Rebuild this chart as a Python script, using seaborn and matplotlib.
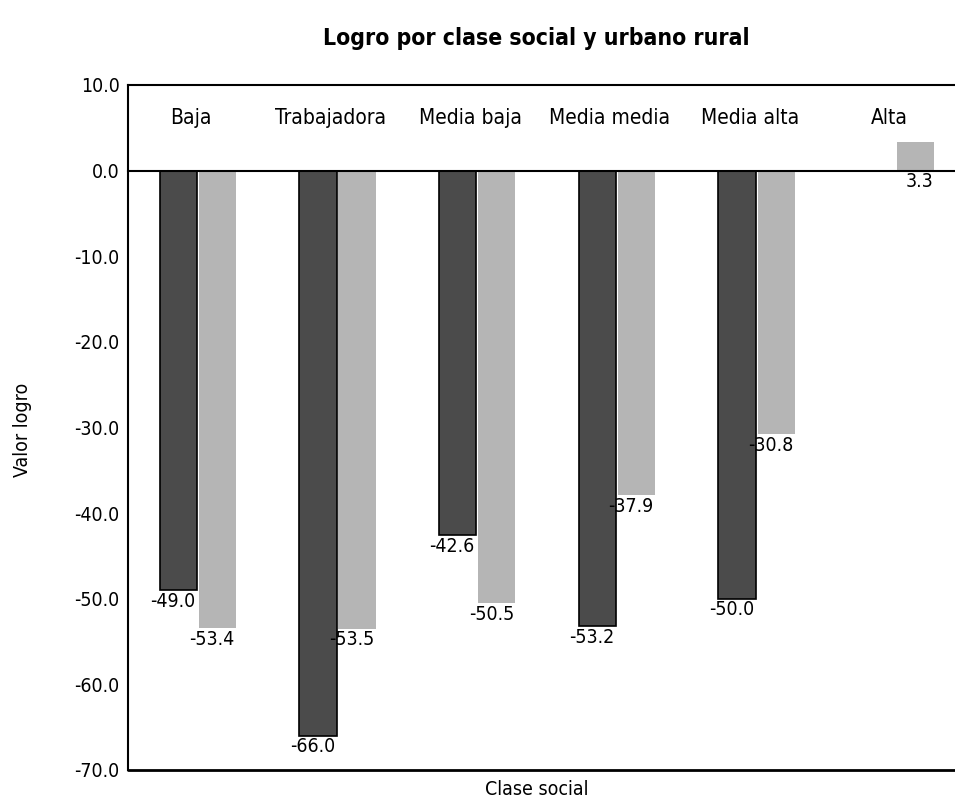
import numpy as np
import pandas as pd
import seaborn as sns
import matplotlib.pyplot as plt

categories = ["Baja", "Trabajadora", "Media baja", "Media media", "Media alta", "Alta"]
zonas = ["Urbano", "Rural"]
urbano = [-49.0, -66.0, -42.6, -53.2, -50.0, np.nan]
rural = [-53.4, -53.5, -50.5, -37.9, -30.8, 3.3]
y_ticks = [10, 0, -10, -20, -30, -40, -50, -60, -70]

df = pd.DataFrame({
    "clase": categories * 2,
    "zona": ["Urbano"] * len(categories) + ["Rural"] * len(categories),
    "valor": urbano + rural,
})

sns.set_theme(style="white")
plt.rcParams["font.family"] = ["DejaVu Sans"]
plt.rcParams["font.stretch"] = "condensed"
plt.rcParams["text.color"] = "black"
plt.rcParams["ytick.color"] = "black"

fig = plt.figure(figsize=(9.55, 8.05), dpi=100)
ax = fig.add_axes([0.134, 0.0435, 0.866, 0.851])

sns.barplot(data=df, x="clase", y="valor", hue="zona", order=categories,
            hue_order=zonas, palette=["#4b4b4b", "#b5b5b5"], width=0.56,
            gap=0.05, legend=False, ax=ax, saturation=1)

for bar in ax.containers[0]:
    bar.set_edgecolor("black")
    bar.set_linewidth(1.2)
for bar in ax.containers[1]:
    bar.set_edgecolor("none")

# value labels under the bottom of each bar
for cont in ax.containers:
    for bar in cont:
        h = bar.get_height()
        if np.isnan(h):
            continue
        x_right = bar.get_x() + bar.get_width()
        ax.text(x_right - 0.01, min(0, h) - 0.2, f"{h:.1f}", ha="right", va="top",
                fontsize=14, color="black")

# category names inside the top band
for i, c in enumerate(categories):
    ax.text(i - 0.05, 6.1, c, ha="center", va="center", fontsize=15)

ax.set_xlim(-0.5, 5.42)
ax.set_ylim(-70, 10)
ax.set_yticks(y_ticks)
ax.set_yticklabels([f"{t:.1f}" for t in y_ticks], fontsize=14)
ax.set_xticks(np.arange(0.5, len(categories) - 0.5, 1))
ax.set_xticklabels([])
ax.tick_params(axis="y", direction="out", length=4, width=1.2, color="black", pad=2)
ax.tick_params(axis="x", direction="out", length=4, width=1.2, color="black")

ax.spines["right"].set_visible(False)
ax.spines["bottom"].set_position(("data", 0))
for s in ["top", "left", "bottom"]:
    ax.spines[s].set_color("black")
    ax.spines[s].set_linewidth(1.5)
ax.axhline(-70, color="black", lw=2.0, clip_on=False, zorder=5)

ax.set_xlabel("")
ax.set_ylabel("")
fig.text(0.562, 0.019, "Clase social", ha="center", va="center", fontsize=14)
fig.text(0.024, 0.466, "Valor logro", ha="center", va="center", rotation=90, fontsize=14)
fig.text(0.562, 0.952, "Logro por clase social y urbano rural", ha="center", va="center",
         fontsize=16.5, fontweight="bold")

plt.savefig("out.png", dpi=100)
